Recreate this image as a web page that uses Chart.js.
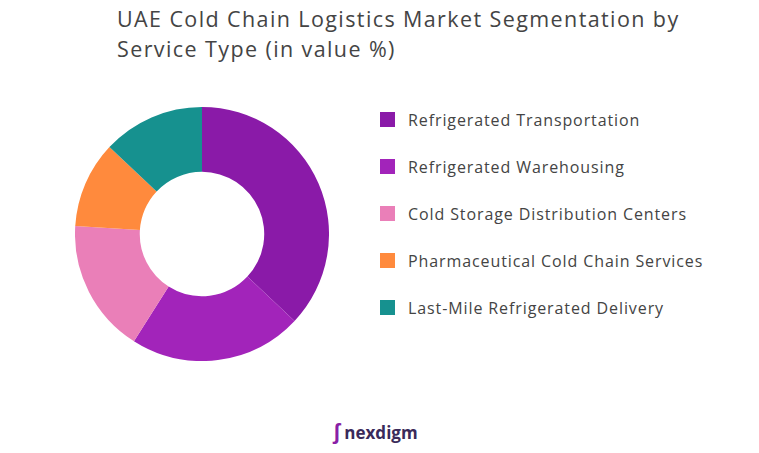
<!DOCTYPE html>
<html><head><meta charset="utf-8">
<script src="https://cdn.jsdelivr.net/npm/chart.js@4"></script>
<style>
body{margin:0;background:#fff;width:759px;height:453px;overflow:hidden;font-family:"Open Sans",sans-serif;}
#title{position:absolute;left:117px;top:4px;font-size:21.5px;line-height:30px;color:#444;letter-spacing:1.4px;white-space:nowrap}
#wrap{position:absolute;left:75px;top:107px;width:254px;height:254px}
#legend{position:absolute;left:380px;top:108px;white-space:nowrap}
.row{height:47px;display:flex;align-items:flex-start;font-size:16px;color:#444;line-height:24px;letter-spacing:0.9px}
.box{width:15px;height:15px;margin:4px 13px 0 0}
#logo{position:absolute;left:333px;top:415px;font-size:17px;font-weight:bold;color:#3a2a5a}
#logo span{color:#8a1fa6;font-size:22px;margin-right:4px}
</style></head><body>
<div id="title">UAE Cold Chain Logistics Market Segmentation by<br>Service Type (in value %)</div>
<div id="wrap"><canvas id="c"></canvas></div>
<div id="legend"></div>
<div id="logo"><span>ʃ</span>nexdigm</div>
<script>
const categories=["Refrigerated Transportation","Refrigerated Warehousing","Cold Storage Distribution Centers","Pharmaceutical Cold Chain Services","Last-Mile Refrigerated Delivery"];
const values=[37,22,17,11,13];
const colors=["#8a1aa8","#a224ba","#ea7fb8","#ff8a3d","#16918f"];
const lg=document.getElementById('legend');
categories.forEach((c,i)=>{const r=document.createElement('div');r.className='row';
 r.innerHTML='<div class="box" style="background:'+colors[i]+'"></div>'+c;lg.appendChild(r);});
new Chart(document.getElementById('c'),{
 type:'doughnut',
 data:{labels:categories,datasets:[{data:values,backgroundColor:colors,borderWidth:0}]},
 options:{responsive:true,maintainAspectRatio:false,animation:false,cutout:'49%',
  plugins:{tooltip:{enabled:false},legend:{display:false}}}
});
</script></body></html>
